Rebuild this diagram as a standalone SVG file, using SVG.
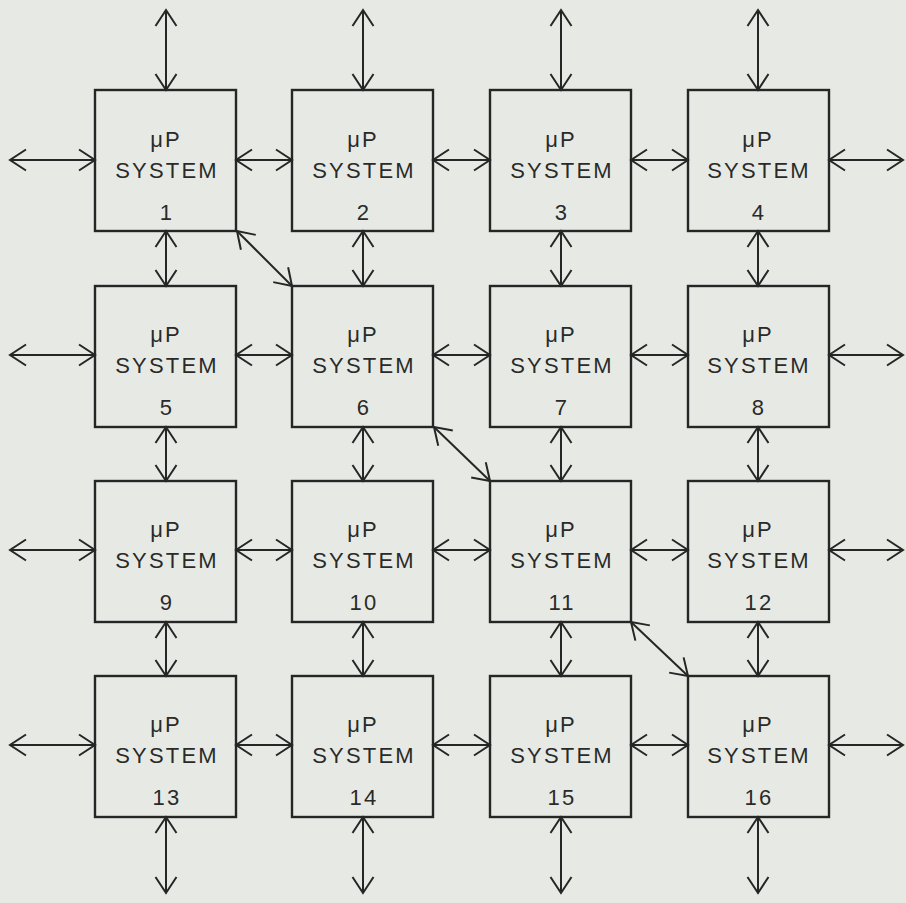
<svg xmlns="http://www.w3.org/2000/svg" width="906" height="903" viewBox="0 0 906 903">
<style>
.box{fill:none;stroke:#262626;stroke-width:2.4}
.t{font-family:"Liberation Sans","DejaVu Sans",sans-serif;font-size:22px;fill:#2a2a2a;text-anchor:middle;letter-spacing:2.2px}
.c line{stroke:#262626;stroke-width:2;marker-start:url(#ah);marker-end:url(#ah)}
</style>
<defs>
<marker id="ah" viewBox="0 0 20 24" refX="18" refY="12" markerWidth="20" markerHeight="24" markerUnits="userSpaceOnUse" orient="auto-start-reverse">
<path d="M2,1.5 L18,12 L2,22.5" fill="none" stroke="#262626" stroke-width="2"/>
</marker>
</defs>
<rect width="906" height="903" fill="#e7eae4"/>
<g class="c" id="connectors">
<line x1="166" y1="10" x2="166" y2="90"/>
<line x1="363" y1="10" x2="363" y2="90"/>
<line x1="561" y1="10" x2="561" y2="90"/>
<line x1="758" y1="10" x2="758" y2="90"/>
<line x1="166" y1="231" x2="166" y2="286"/>
<line x1="363" y1="231" x2="363" y2="286"/>
<line x1="561" y1="231" x2="561" y2="286"/>
<line x1="758" y1="231" x2="758" y2="286"/>
<line x1="166" y1="427" x2="166" y2="481"/>
<line x1="363" y1="427" x2="363" y2="481"/>
<line x1="561" y1="427" x2="561" y2="481"/>
<line x1="758" y1="427" x2="758" y2="481"/>
<line x1="166" y1="622" x2="166" y2="676"/>
<line x1="363" y1="622" x2="363" y2="676"/>
<line x1="561" y1="622" x2="561" y2="676"/>
<line x1="758" y1="622" x2="758" y2="676"/>
<line x1="166" y1="817" x2="166" y2="893"/>
<line x1="363" y1="817" x2="363" y2="893"/>
<line x1="561" y1="817" x2="561" y2="893"/>
<line x1="758" y1="817" x2="758" y2="893"/>
<line x1="10" y1="160" x2="95" y2="160"/>
<line x1="236" y1="160" x2="292" y2="160"/>
<line x1="433" y1="160" x2="490" y2="160"/>
<line x1="631" y1="160" x2="688" y2="160"/>
<line x1="829" y1="160" x2="903" y2="160"/>
<line x1="10" y1="355" x2="95" y2="355"/>
<line x1="236" y1="355" x2="292" y2="355"/>
<line x1="433" y1="355" x2="490" y2="355"/>
<line x1="631" y1="355" x2="688" y2="355"/>
<line x1="829" y1="355" x2="903" y2="355"/>
<line x1="10" y1="550" x2="95" y2="550"/>
<line x1="236" y1="550" x2="292" y2="550"/>
<line x1="433" y1="550" x2="490" y2="550"/>
<line x1="631" y1="550" x2="688" y2="550"/>
<line x1="829" y1="550" x2="903" y2="550"/>
<line x1="10" y1="745" x2="95" y2="745"/>
<line x1="236" y1="745" x2="292" y2="745"/>
<line x1="433" y1="745" x2="490" y2="745"/>
<line x1="631" y1="745" x2="688" y2="745"/>
<line x1="829" y1="745" x2="903" y2="745"/>
<line x1="237" y1="231" x2="292" y2="286"/>
<line x1="434" y1="427" x2="490" y2="481"/>
<line x1="631" y1="622" x2="688" y2="676"/>
</g>
<g id="n1"><rect class="box" x="95" y="90" width="141" height="141"/><text class="t" x="166" y="147">μP</text><text class="t" x="167" y="178">SYSTEM</text><text class="t" x="167" y="220">1</text></g>
<g id="n2"><rect class="box" x="292" y="90" width="141" height="141"/><text class="t" x="363" y="147">μP</text><text class="t" x="364" y="178">SYSTEM</text><text class="t" x="364" y="220">2</text></g>
<g id="n3"><rect class="box" x="490" y="90" width="141" height="141"/><text class="t" x="561" y="147">μP</text><text class="t" x="562" y="178">SYSTEM</text><text class="t" x="562" y="220">3</text></g>
<g id="n4"><rect class="box" x="688" y="90" width="141" height="141"/><text class="t" x="758" y="147">μP</text><text class="t" x="759" y="178">SYSTEM</text><text class="t" x="759" y="220">4</text></g>
<g id="n5"><rect class="box" x="95" y="286" width="141" height="141"/><text class="t" x="166" y="342">μP</text><text class="t" x="167" y="373">SYSTEM</text><text class="t" x="167" y="415">5</text></g>
<g id="n6"><rect class="box" x="292" y="286" width="141" height="141"/><text class="t" x="363" y="342">μP</text><text class="t" x="364" y="373">SYSTEM</text><text class="t" x="364" y="415">6</text></g>
<g id="n7"><rect class="box" x="490" y="286" width="141" height="141"/><text class="t" x="561" y="342">μP</text><text class="t" x="562" y="373">SYSTEM</text><text class="t" x="562" y="415">7</text></g>
<g id="n8"><rect class="box" x="688" y="286" width="141" height="141"/><text class="t" x="758" y="342">μP</text><text class="t" x="759" y="373">SYSTEM</text><text class="t" x="759" y="415">8</text></g>
<g id="n9"><rect class="box" x="95" y="481" width="141" height="141"/><text class="t" x="166" y="537">μP</text><text class="t" x="167" y="568">SYSTEM</text><text class="t" x="167" y="610">9</text></g>
<g id="n10"><rect class="box" x="292" y="481" width="141" height="141"/><text class="t" x="363" y="537">μP</text><text class="t" x="364" y="568">SYSTEM</text><text class="t" x="364" y="610">10</text></g>
<g id="n11"><rect class="box" x="490" y="481" width="141" height="141"/><text class="t" x="561" y="537">μP</text><text class="t" x="562" y="568">SYSTEM</text><text class="t" x="562" y="610">11</text></g>
<g id="n12"><rect class="box" x="688" y="481" width="141" height="141"/><text class="t" x="758" y="537">μP</text><text class="t" x="759" y="568">SYSTEM</text><text class="t" x="759" y="610">12</text></g>
<g id="n13"><rect class="box" x="95" y="676" width="141" height="141"/><text class="t" x="166" y="732">μP</text><text class="t" x="167" y="763">SYSTEM</text><text class="t" x="167" y="805">13</text></g>
<g id="n14"><rect class="box" x="292" y="676" width="141" height="141"/><text class="t" x="363" y="732">μP</text><text class="t" x="364" y="763">SYSTEM</text><text class="t" x="364" y="805">14</text></g>
<g id="n15"><rect class="box" x="490" y="676" width="141" height="141"/><text class="t" x="561" y="732">μP</text><text class="t" x="562" y="763">SYSTEM</text><text class="t" x="562" y="805">15</text></g>
<g id="n16"><rect class="box" x="688" y="676" width="141" height="141"/><text class="t" x="758" y="732">μP</text><text class="t" x="759" y="763">SYSTEM</text><text class="t" x="759" y="805">16</text></g>
</svg>
